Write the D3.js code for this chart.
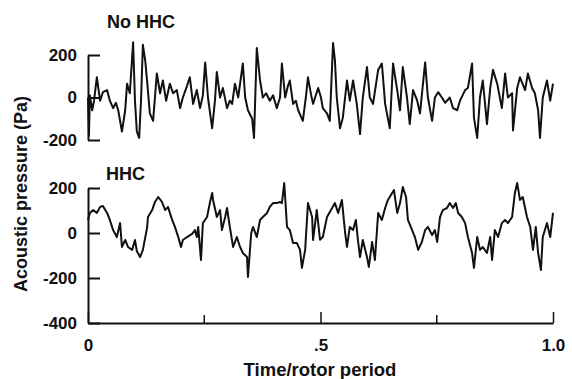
<!DOCTYPE html>
<html>
<head>
<meta charset="utf-8">
<script src="https://cdn.jsdelivr.net/npm/d3@7/dist/d3.min.js"></script>
<style>
  html, body { margin: 0; padding: 0; background: #fff; }
  svg { display: block; }
  text { font-family: "Liberation Sans", Arial, Helvetica, sans-serif; font-weight: bold; fill: #111; }
</style>
</head>
<body>
<svg id="chart" width="572" height="379"></svg>
<script>
// ---- data (time in rotor periods, acoustic pressure in Pa) ----
const tNoHHC = [0,.002,.004,.009,.013,.019,.026,.032,.041,.047,
  .054,.060,.065,.073,.080,.084,.090,.097,.101,.105,
  .110,.114,.118,.123,.127,.133,.140,.148,.155,.161,
  .168,.176,.183,.191,.198,.204,.213,.219,.226,.234,
  .241,.247,.252,.258,.267,.273,.277,.284,.290,.299,
  .305,.310,.316,.323,.333,.338,.344,.353,.357,.363,
  .370,.376,.383,.391,.398,.406,.413,.417,.424,.430,
  .434,.441,.447,.452,.462,.469,.473,.480,.484,.495,
  .501,.505,.514,.520,.527,.531,.535,.542,.548,.557,
  .563,.570,.578,.585,.591,.600,.606,.613,.624,.632,
  .639,.649,.656,.665,.671,.677,.686,.692,.699,.708,
  .714,.725,.731,.740,.746,.753,.761,.768,.778,.785,
  .794,.800,.811,.817,.826,.830,.837,.843,.849,.858,
  .865,.871,.880,.890,.897,.903,.912,.914,.923,.929,
  .940,.946,.955,.961,.968,.972,.978,.987,.994,1.0];
const pNoHHC = [0,-180,10,-60,-15,95,-15,25,35,-15,
  -50,-25,-60,-160,-60,65,20,260,-15,-160,
  -190,-15,248,175,80,-75,-110,113,20,80,
  -15,65,20,35,-50,0,55,95,-30,35,
  -50,10,165,0,-145,-15,120,0,45,-50,
  -15,-30,65,0,160,0,-60,-100,-190,233,
  80,0,20,-15,10,-50,0,160,0,55,
  80,-30,-15,-60,-110,10,95,10,-30,45,
  0,-50,-75,-110,257,175,0,-145,-95,80,
  -15,80,-30,-172,0,143,0,-30,130,160,
  -30,-145,160,35,-60,143,0,-125,35,-15,
  -75,165,0,-110,0,25,0,-25,0,-50,
  -60,-15,35,45,160,-95,-190,0,80,-125,
  45,130,65,-50,113,0,20,-155,45,95,
  35,113,45,20,-60,-190,0,80,-15,65];

const tHHC = [0,.004,.011,.019,.026,.032,.041,.047,.054,.062,
  .069,.073,.080,.086,.095,.101,.105,.112,.118,.127,
  .129,.138,.144,.151,.159,.166,.172,.181,.187,.194,
  .200,.204,.213,.224,.230,.234,.237,.243,.247,.256,
  .262,.267,.269,.277,.284,.288,.295,.299,.305,.312,
  .320,.327,.333,.342,.344,.351,.355,.363,.370,.376,
  .385,.391,.398,.406,.413,.417,.422,.428,.434,.441,
  .449,.456,.460,.467,.473,.482,.484,.492,.499,.505,
  .514,.525,.531,.538,.546,.553,.557,.563,.570,.576,
  .581,.585,.591,.600,.604,.611,.617,.624,.632,.639,
  .645,.654,.658,.665,.671,.677,.684,.688,.697,.703,
  .710,.718,.725,.731,.740,.746,.751,.757,.763,.772,
  .778,.785,.791,.796,.804,.811,.817,.826,.830,.837,
  .843,.849,.858,.865,.869,.875,.882,.890,.897,.903,
  .912,.918,.923,.929,.935,.944,.951,.957,.963,.968,
  .974,.978,.987,.994,1.0];
const pHHC = [58,89,102,89,116,120,89,58,13,-18,
  44,-62,-31,-62,-75,-31,-80,-107,-75,22,
  71,102,138,160,138,102,116,58,27,-18,
  -62,-31,-18,-4,13,-18,27,-120,44,71,
  133,178,147,71,102,13,71,111,27,-62,
  -18,-62,-89,-107,-195,0,27,-18,58,71,
  89,116,133,133,138,133,222,27,13,-44,
  -44,-75,-155,-75,133,71,-31,102,-30,-18,
  71,111,133,89,147,0,-62,27,13,58,
  -40,-107,-31,-107,-151,-40,-120,89,58,111,
  147,178,191,89,133,204,160,58,13,-18,
  -75,-40,13,27,-9,13,-40,71,102,111,
  133,111,133,89,71,44,-18,-89,-155,-18,
  -75,-62,-89,-18,-120,13,-18,44,58,44,
  71,178,222,147,160,71,27,-75,27,-89,
  -164,-18,44,-18,89];

const yTicksTop = [200, 0, -200];
const yTicksBottom = [200, 0, -200, -400];
const xMajorTicks = [0, 0.5, 1.0];
const xMajorLabels = ["0", ".5", "1.0"];
const xMinorTicks = [0.25, 0.75];
const panelTitles = ["No HHC", "HHC"];
const yTitle = "Acoustic pressure (Pa)";
const xTitle = "Time/rotor period";

// ---- layout ----
const svg = d3.select("#chart");
const x = d3.scaleLinear().domain([0, 1]).range([88, 553]);
const yTop = d3.scaleLinear().domain([-200, 200]).range([140, 55]);
const yBot = d3.scaleLinear().domain([-400, 200]).range([323, 188]);

function yAxis(scale, ticks) {
  const fmt = d => d === 0 ? "0" : (d < 0 ? "-" + Math.abs(d) : String(d));
  const g = svg.append("g").attr("transform", `translate(${x(0)},0)`)
    .call(d3.axisLeft(scale).tickValues(ticks).tickSize(-12).tickSizeOuter(0)
      .tickPadding(11).tickFormat(fmt));
  g.select(".domain").attr("stroke", "#111").attr("stroke-width", 2);
  g.selectAll(".tick line").attr("stroke", "#111").attr("stroke-width", 2);
  g.selectAll(".tick text").style("font-size", "17px").attr("fill", "#111")
    .style("font-family", "'Liberation Sans', Arial, sans-serif").style("font-weight", "bold");
  return g;
}
yAxis(yTop, yTicksTop);
yAxis(yBot, yTicksBottom);

// x axis
const gx = svg.append("g").attr("transform", `translate(0,${yBot(-400)})`)
  .call(d3.axisBottom(x).tickValues(xMajorTicks).tickSize(-11).tickSizeOuter(0)
    .tickPadding(16).tickFormat((d, i) => xMajorLabels[i]));
gx.select(".domain").attr("stroke", "#111").attr("stroke-width", 2);
gx.selectAll(".tick line").attr("stroke", "#111").attr("stroke-width", 1.5);
gx.selectAll(".tick text").style("font-size", "17px").attr("fill", "#111")
  .style("font-family", "'Liberation Sans', Arial, sans-serif").style("font-weight", "bold");
svg.append("g").selectAll("line").data(xMinorTicks).join("line")
  .attr("x1", d => x(d)).attr("x2", d => x(d))
  .attr("y1", yBot(-400)).attr("y2", yBot(-400) - 8)
  .attr("stroke", "#111").attr("stroke-width", 1.5);

// traces
const lineTop = d3.line().x((d, i) => x(tNoHHC[i])).y(d => yTop(d));
const lineBot = d3.line().x((d, i) => x(tHHC[i])).y(d => yBot(d));
svg.append("path").datum(pNoHHC).attr("d", lineTop)
  .attr("fill", "none").attr("stroke", "#111").attr("stroke-width", 2)
  .attr("stroke-linejoin", "round");
svg.append("path").datum(pHHC).attr("d", lineBot)
  .attr("fill", "none").attr("stroke", "#111").attr("stroke-width", 2)
  .attr("stroke-linejoin", "round");

// titles
svg.append("text").attr("x", 107).attr("y", 28).style("font-size", "18px").text(panelTitles[0]);
svg.append("text").attr("x", 106).attr("y", 180).style("font-size", "18px").text(panelTitles[1]);
svg.append("text").attr("transform", "translate(27,194) rotate(-90)")
  .attr("text-anchor", "middle").style("font-size", "18px").text(yTitle);
svg.append("text").attr("x", 320).attr("y", 376).attr("text-anchor", "middle")
  .style("font-size", "18.5px").text(xTitle);
</script>
</body>
</html>
